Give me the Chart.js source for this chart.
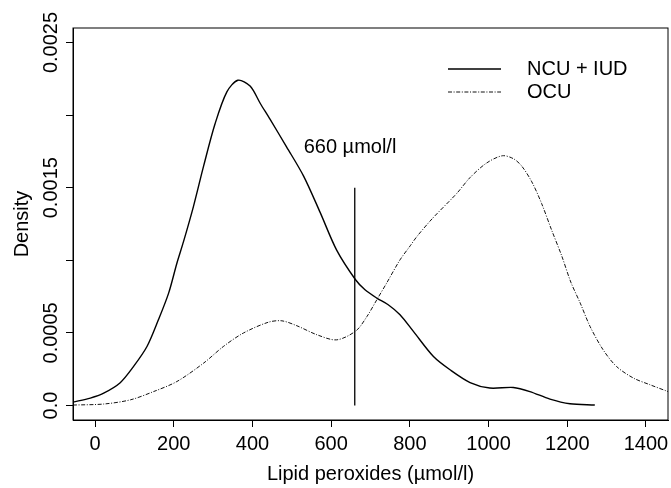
<!DOCTYPE html>
<html>
<head>
<meta charset="utf-8">
<script src="https://cdn.jsdelivr.net/npm/chart.js@4.4.1/dist/chart.umd.min.js"></script>
<style>
  html, body { margin: 0; padding: 0; background: #fff; }
  canvas { display: block; }
</style>
</head>
<body>
<canvas id="chart" width="671" height="488"></canvas>
<script>
// ─── Dados ────────────────────────────────────────────────
const ncuX = [-56, -12, 22, 64, 98, 132, 161, 187, 208, 225, 250, 276, 305, 335, 363, 394, 420, 445,
  487, 530, 572, 614, 662, 686, 716, 745, 775, 809, 860, 902, 953, 1003, 1063, 1105, 1156, 1207, 1270];
const ncuY = [0.000023, 0.000051, 0.000085, 0.000157, 0.000269, 0.000406, 0.00059, 0.000774, 0.00098,
  0.00113, 0.00137, 0.00165, 0.00194, 0.00216, 0.00224, 0.0022, 0.00208, 0.00197, 0.00178, 0.00158,
  0.00133, 0.00107, 0.000866, 0.000797, 0.00074, 0.000694, 0.000625, 0.00051, 0.000337, 0.000246,
  0.000158, 0.00012, 0.000124, 0.000096, 0.000044, 0.000012, 0.000003];

const ocuX = [-56, 22, 90, 149, 208, 276, 326, 377, 441, 475, 513, 564, 614, 663, 691, 716, 741, 775,
  801, 818, 858, 919, 953, 995, 1035, 1063, 1084, 1110, 1135, 1160, 1186, 1209, 1233, 1258, 1291,
  1325, 1368, 1410, 1456];
const ocuY = [0.000003, 0.00001, 0.000039, 0.000096, 0.000165, 0.000292, 0.000406, 0.000499, 0.000574,
  0.000583, 0.000549, 0.000487, 0.000452, 0.000514, 0.000613, 0.000728, 0.000843, 0.001003, 0.0011,
  0.001164, 0.00129, 0.00146, 0.00157, 0.00167, 0.00172, 0.0017, 0.00165, 0.00154, 0.00139, 0.00121,
  0.00103, 0.00085, 0.000705, 0.000544, 0.000384, 0.000269, 0.000189, 0.000143, 0.000096];

const cutX = [660, 660];
const cutY = [0, 0.0015];

const seriesNames = ['NCU + IUD', 'OCU'];
const cutLabel = '660 µmol/l';

const xTicks = [0, 200, 400, 600, 800, 1000, 1200, 1400];
const yTicks = [0, 0.0005, 0.001, 0.0015, 0.002, 0.0025];
const yTickLabels = ['0.0', '0.0005', '', '0.0015', '', '0.0025'];

// ─── Aparência ────────────────────────────────────────────
const FONT = "'Liberation Sans', Arial, sans-serif";
const FONT_SIZE = 20;
const OCU_DASH = [4, 1.6, 1, 1.6];

const toPoints = (xs, ys) => xs.map((x, i) => ({ x, y: ys[i] }));

// moldura, rótulos do eixo y, anotação e legenda
const rPlot = {
  id: 'rPlot',
  afterDraw(chart) {
    const { ctx, chartArea: a, scales: { x, y } } = chart;
    ctx.save();
    ctx.strokeStyle = '#000';
    ctx.lineWidth = 1;
    ctx.strokeRect(a.left, a.top, a.right - a.left, a.bottom - a.top);

    ctx.fillStyle = '#000';
    ctx.font = `${FONT_SIZE}px ${FONT}`;

    // rótulos do eixo y, girados
    yTicks.forEach((v, i) => {
      if (!yTickLabels[i]) return;
      ctx.save();
      ctx.translate(a.left - 16, y.getPixelForValue(v));
      ctx.rotate(-Math.PI / 2);
      ctx.textAlign = 'center';
      ctx.textBaseline = 'alphabetic';
      ctx.fillText(yTickLabels[i], 0, 0);
      ctx.restore();
    });

    // texto do ponto de corte
    ctx.textAlign = 'center';
    ctx.textBaseline = 'middle';
    ctx.fillText(cutLabel, x.getPixelForValue(648), y.getPixelForValue(0.00178));

    // legenda
    const lx0 = 448, lx1 = 501, tx = 527;
    const rows = [69, 92];
    chart.data.datasets.slice(0, 2).forEach((ds, i) => {
      ctx.beginPath();
      ctx.lineWidth = ds.borderWidth;
      ctx.strokeStyle = ds.borderColor;
      ctx.setLineDash(ds.borderDash || []);
      ctx.moveTo(lx0, rows[i]);
      ctx.lineTo(lx1, rows[i]);
      ctx.stroke();
      ctx.setLineDash([]);
      ctx.textAlign = 'left';
      ctx.fillText(ds.label, tx, rows[i]);
    });
    ctx.restore();
  }
};

new Chart(document.getElementById('chart'), {
  type: 'line',
  data: {
    datasets: [
      {
        label: seriesNames[0],
        data: toPoints(ncuX, ncuY),
        borderColor: '#000',
        borderWidth: 1.4,
        pointRadius: 0,
        tension: 0.3,
      },
      {
        label: seriesNames[1],
        data: toPoints(ocuX, ocuY),
        borderColor: '#111',
        borderWidth: 1,
        borderDash: OCU_DASH,
        pointRadius: 0,
        tension: 0.3,
      },
      {
        label: 'cut',
        data: toPoints(cutX, cutY),
        borderColor: '#000',
        borderWidth: 1.3,
        pointRadius: 0,
      },
    ]
  },
  options: {
    responsive: false,
    animation: false,
    layout: { padding: { top: 28, right: 3, left: 0, bottom: 0 } },
    plugins: { legend: { display: false }, tooltip: { enabled: false } },
    scales: {
      x: {
        type: 'linear',
        min: -56,
        max: 1456,
        afterBuildTicks: s => { s.ticks = xTicks.map(v => ({ value: v })); },
        afterFit: s => { s.height = 68; s.paddingLeft = 0; s.paddingRight = 0; },
        ticks: {
          autoSkip: false, maxRotation: 0, padding: 5, color: '#000',
          font: { family: FONT, size: FONT_SIZE },
          callback: v => String(v),
        },
        grid: { drawOnChartArea: false, tickLength: 7, color: '#000' },
        border: { color: '#000' },
        title: {
          display: true, text: 'Lipid peroxides (µmol/l)', color: '#000',
          font: { family: FONT, size: FONT_SIZE }, padding: { top: 0, bottom: 2 },
        },
      },
      y: {
        type: 'linear',
        min: -0.0001,
        max: 0.0026,
        afterBuildTicks: s => { s.ticks = yTicks.map(v => ({ value: v })); },
        afterFit: s => { s.width = 73; s.paddingTop = 0; s.paddingBottom = 0; },
        ticks: { display: false },
        grid: { drawOnChartArea: false, tickLength: 7, color: '#000' },
        border: { color: '#000' },
        title: {
          display: true, text: 'Density', color: '#000',
          font: { family: FONT, size: FONT_SIZE }, padding: { top: 10, bottom: 0 },
        },
      },
    },
  },
  plugins: [rPlot],
});
</script>
</body>
</html>
